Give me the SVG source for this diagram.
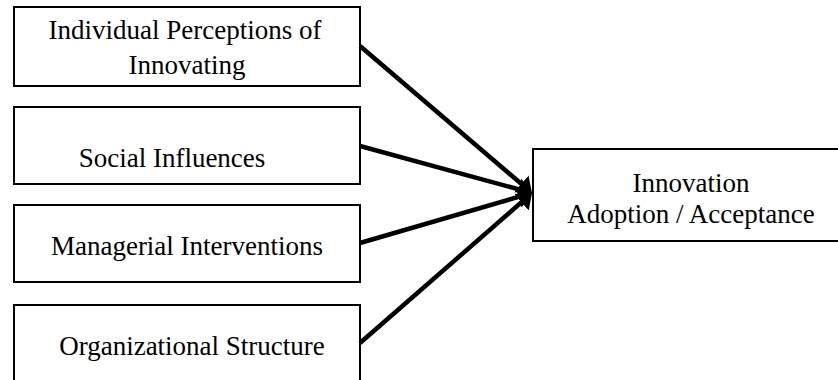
<svg xmlns="http://www.w3.org/2000/svg" width="838" height="380" viewBox="0 0 838 380">
  <style>
    .box { fill: #ffffff; stroke: #000000; stroke-width: 2; }
    .label { font-family: "Liberation Serif", "Times New Roman", serif; font-size: 27px; fill: #000000; text-anchor: middle; }
    .link { stroke: #000000; stroke-width: 4.5; fill: none; marker-end: url(#head); }
  </style>
  <defs>
    <marker id="head" markerUnits="userSpaceOnUse" viewBox="0 -12 15 24" refX="6" refY="0" markerWidth="15" markerHeight="24" orient="auto">
      <path d="M0,-11 L14,0 L0,11 z" fill="#000000"/>
    </marker>
  </defs>
  <rect width="838" height="380" fill="#ffffff"/>

  <g id="node-perceptions">
    <rect class="box" x="14" y="7" width="346" height="79"/>
    <text class="label" x="185" y="39">Individual Perceptions of</text>
    <text class="label" x="187" y="74">Innovating</text>
  </g>

  <g id="node-social">
    <rect class="box" x="14" y="107" width="346" height="77"/>
    <text class="label" x="172" y="167">Social Influences</text>
  </g>

  <g id="node-managerial">
    <rect class="box" x="14" y="205" width="346" height="77"/>
    <text class="label" x="187" y="255">Managerial Interventions</text>
  </g>

  <g id="node-structure">
    <rect class="box" x="14" y="305" width="346" height="100"/>
    <text class="label" x="192" y="355">Organizational Structure</text>
  </g>

  <g id="node-adoption">
    <rect class="box" x="533" y="149" width="320" height="92"/>
    <text class="label" x="691" y="192">Innovation</text>
    <text class="label" x="691" y="223">Adoption / Acceptance</text>
  </g>

  <!-- each line stops 8px short of the shared tip at (532,193); the marker supplies the rest -->
  <g id="connectors">
    <line class="link" x1="360" y1="46" x2="525.9" y2="187.8"/>
    <line class="link" x1="360" y1="146" x2="524.3" y2="190.9"/>
    <line class="link" x1="360" y1="243" x2="524.3" y2="195.2"/>
    <line class="link" x1="360" y1="343" x2="526.0" y2="198.3"/>
  </g>
</svg>
